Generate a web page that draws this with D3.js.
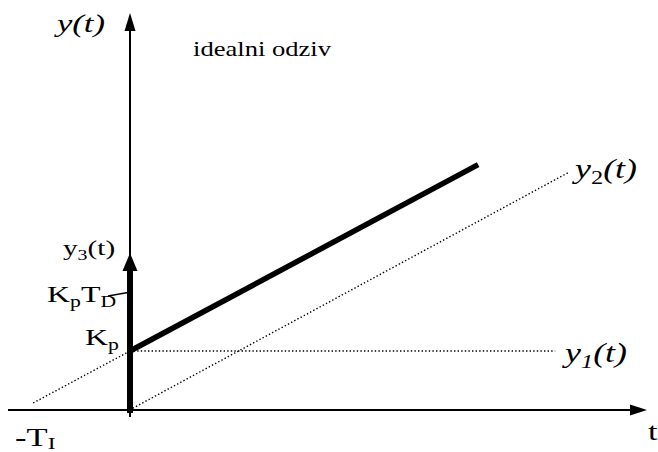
<!DOCTYPE html>
<html>
<head>
<meta charset="utf-8">
<script src="https://cdn.jsdelivr.net/npm/d3@7/dist/d3.min.js"></script>
<style>
  html, body { margin: 0; padding: 0; background: #fff; }
  svg { display: block; }
  svg text { font-family: "Liberation Serif", "DejaVu Serif", serif; }
</style>
</head>
<body>
<svg id="chart" width="658" height="452"></svg>
<script>
// Ideal PID step response: proportional step, integral ramp, derivative impulse
const Kp = 1;
const TI = 2;
const tDomain = [-2.2, 9.4];
const yDomain = [0, 6.73];

// Segments (t, y) of each component
const idealResponse = [{ t: 0, y: 1 }, { t: 6.33, y: 4.16 }];
const y1Series = [{ t: 0, y: 1 }, { t: 7.73, y: 1 }];
const y2Series = [{ t: 0.05, y: 0.03 }, { t: 7.96, y: 4.02 }];
const rampExtension = [{ t: -1.76, y: 0.12 }, { t: 0, y: 1 }];
const impulse = { t: 0, y: 2.66 };
const kpTdLevel = 1.99;

const svg = d3.select("#chart");
const x = d3.scaleLinear().domain(tDomain).range([9, 647]);
const y = d3.scaleLinear().domain(yDomain).range([410, 13]);

const line = d3.line().x(d => x(d.t)).y(d => y(d.y));

// Filled triangular arrowhead
function arrowHead(tipX, tipY, dir, len, half) {
  let pts;
  if (dir === "up") pts = [[tipX, tipY], [tipX - half, tipY + len], [tipX + half, tipY + len]];
  else pts = [[tipX, tipY], [tipX - len, tipY - half], [tipX - len, tipY + half]];
  svg.append("path")
    .attr("d", "M" + pts.map(p => p.join(",")).join("L") + "Z")
    .attr("fill", "#000");
}

// Horizontal t axis
const x0 = x(0), y0 = y(0);
svg.append("line")
  .attr("x1", x(tDomain[0]) - 1).attr("y1", y0)
  .attr("x2", x(tDomain[1]) - 12).attr("y2", y0)
  .attr("stroke", "#000").attr("stroke-width", 2);
arrowHead(x(tDomain[1]), y0, "right", 17, 5.5);

// Vertical y axis
svg.append("line")
  .attr("x1", x0).attr("y1", y0 + 7)
  .attr("x2", x0).attr("y2", y(yDomain[1]) + 12)
  .attr("stroke", "#000").attr("stroke-width", 2);
arrowHead(x0, y(yDomain[1]), "up", 18, 5.5);

// Dotted component lines
[y1Series, y2Series, rampExtension].forEach(seg => {
  svg.append("path").attr("d", line(seg))
    .attr("stroke", "#000").attr("stroke-width", 1.4)
    .attr("stroke-dasharray", "1.4,2.2").attr("fill", "none");
});

// Derivative impulse
svg.append("line")
  .attr("x1", x(impulse.t)).attr("y1", y0 + 3)
  .attr("x2", x(impulse.t)).attr("y2", y(impulse.y) + 14)
  .attr("stroke", "#000").attr("stroke-width", 6);
arrowHead(x(impulse.t), y(impulse.y), "up", 18, 7.5);

// Ideal response ramp
svg.append("path")
  .attr("d", line(idealResponse))
  .attr("stroke", "#000").attr("stroke-width", 5.5)
  .attr("stroke-linecap", "butt").attr("fill", "none");

// Leader from the KpTD label to the impulse
svg.append("line")
  .attr("x1", 108).attr("y1", y(kpTdLevel) + 3.5)
  .attr("x2", x0 - 2).attr("y2", y(kpTdLevel))
  .attr("stroke", "#000").attr("stroke-width", 1.5);

// Labels (text is stretched horizontally)
const sx = 1.33;
function label(px, py, size, parts, italic) {
  const t = svg.append("text")
    .attr("transform", `translate(${px},${py}) scale(${sx},1)`)
    .style("font-size", size + "px")
    .style("font-style", italic ? "italic" : "normal")
    .attr("fill", "#000");
  parts.forEach(p => {
    const s = t.append("tspan").text(p.s);
    if (p.sub) s.style("font-size", (size * 0.68) + "px").attr("dy", size * (p.subDy || 0.22));
    if (p.up) s.attr("dy", -size * (p.upDy || 0.22));
    if (p.fs) s.style("font-style", p.fs);
  });
}

label(57, 32, 26, [{ s: "y(t)" }], true);
label(193, 56, 20, [{ s: "idealni odziv" }], false);
label(63, 255, 22, [{ s: "y" }, { s: "3", sub: true }, { s: "(t)", up: true }], false);
label(47, 302, 24, [{ s: "K" }, { s: "p", sub: true }, { s: "T", up: true }, { s: "D", sub: true }], false);
label(85, 345, 24, [{ s: "K" }, { s: "p", sub: true }], false);
label(x(-TI) - 5, 446, 26, [{ s: "-T" }, { s: "I", sub: true, subDy: 0.1 }], false);
label(648, 440, 26, [{ s: "t" }], false);
label(575, 178, 27, [{ s: "y" }, { s: "2", sub: true, fs: "normal" }, { s: "(t)", up: true }], true);
label(565, 362, 27, [{ s: "y" }, { s: "1", sub: true }, { s: "(t)", up: true }], true);
</script>
</body>
</html>
